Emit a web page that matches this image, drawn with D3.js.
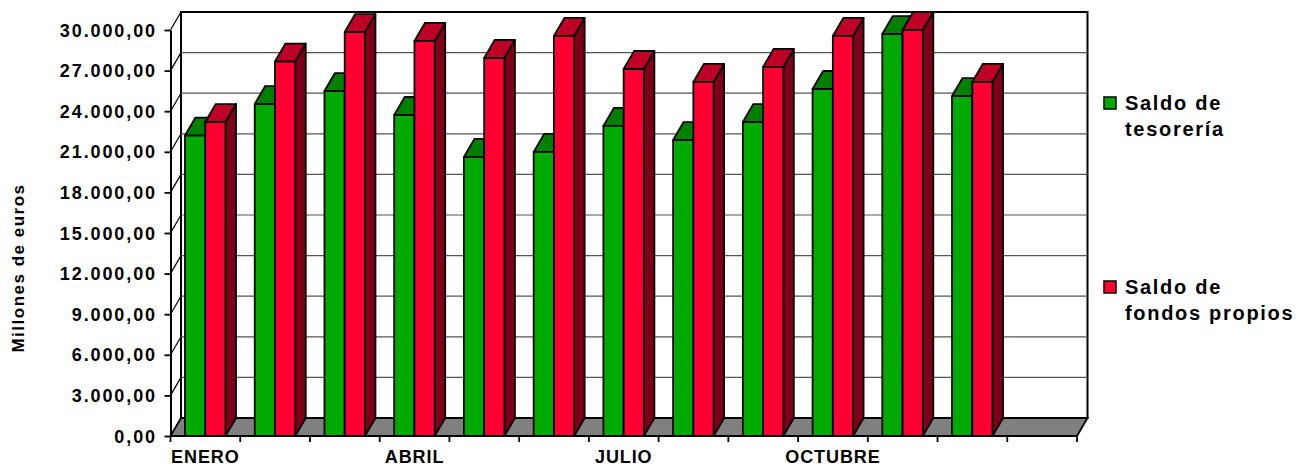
<!DOCTYPE html>
<html>
<head>
<meta charset="utf-8">
<script src="https://cdn.jsdelivr.net/npm/d3@7"></script>
<style>
html, body { margin: 0; padding: 0; background: #fff; }
svg { display: block; }
text { font-family: "Liberation Sans", Arial, sans-serif; font-weight: bold; fill: #000; }
</style>
</head>
<body>
<svg id="chart" width="1308" height="467"></svg>
<script>
// one extra empty slot at the end, the source chart leaves it blank
var months = ["ENERO", "FEBRERO", "MARZO", "ABRIL", "MAYO", "JUNIO", "JULIO", "AGOSTO", "SEPTIEMBRE", "OCTUBRE", "NOVIEMBRE", "DICIEMBRE", ""];
var labelledMonths = ["ENERO", "ABRIL", "JULIO", "OCTUBRE"];
var tesoreria = [22200, 24530, 25490, 23720, 20620, 20990, 22910, 21870, 23200, 25640, 29700, 25120];
var fondos = [23200, 27670, 29850, 29190, 27930, 29560, 27120, 26160, 27270, 29560, 30000, 26160];
var yTicks = [0, 3000, 6000, 9000, 12000, 15000, 18000, 21000, 24000, 27000, 30000];
var seriesNames = ["Saldo de tesorería", "Saldo de fondos propios"];

var svg = d3.select("#chart");

var left = 170.5, right = 1077, bottom = 436, top_ = 30;
var depthX = 10.5, depthY = 18;

var es = d3.formatLocale({ decimal: ",", thousands: ".", grouping: [3], currency: ["", "€"] });

var xScale = d3.scaleBand().domain(months).range([left, right]);
var yScale = d3.scaleLinear().domain([0, 30000]).range([bottom, top_]);
var barScale = d3.scaleBand().domain(seriesNames).range([14.5, 55]);

var palette = [
    { front: "#00AA00", top: "#008000", side: "#005500" },
    { front: "#FF0033", top: "#BF0026", side: "#7F0019" }
];

// back wall and side wall
var walls = svg.append("g").attr("fill", "none").attr("stroke", "#000");
walls.append("rect")
    .attr("x", left + depthX).attr("y", top_ - depthY)
    .attr("width", right - left).attr("height", bottom - top_)
    .attr("fill", "#fff").attr("stroke-width", 2);
walls.selectAll(".grid")
    .data(yTicks.slice(1, -1))
    .enter().append("line")
    .attr("x1", left + depthX).attr("x2", right + depthX)
    .attr("y1", function(d){ return yScale(d) - depthY; })
    .attr("y2", function(d){ return yScale(d) - depthY; })
    .attr("stroke", "#555").attr("stroke-width", 1.2);
walls.selectAll(".diag")
    .data(yTicks.slice(1))
    .enter().append("line")
    .attr("x1", left).attr("x2", left + depthX)
    .attr("y1", function(d){ return yScale(d); })
    .attr("y2", function(d){ return yScale(d) - depthY; })
    .attr("stroke-width", 1.2);

// floor
svg.append("path")
    .attr("d", d3.line()([[left, bottom], [right, bottom], [right + depthX, bottom - depthY], [left + depthX, bottom - depthY]]) + "Z")
    .attr("fill", "#808080").attr("stroke", "#000").attr("stroke-width", 1.8);

// bars, each month left to right, green before red
var bars = svg.append("g").attr("stroke", "#000").attr("stroke-width", 1.8).attr("stroke-linejoin", "round");
months.slice(0, 12).forEach(function(m, i){
    [tesoreria[i], fondos[i]].forEach(function(v, s){
        var x0 = xScale(m) + barScale(seriesNames[s]);
        var x1 = x0 + barScale.bandwidth();
        var y0 = yScale(v);
        var g = bars.append("g");
        g.append("path")
            .attr("d", d3.line()([[x1, y0], [x1 + depthX, y0 - depthY], [x1 + depthX, bottom - depthY], [x1, bottom]]) + "Z")
            .attr("fill", palette[s].side);
        g.append("path")
            .attr("d", d3.line()([[x0, y0], [x0 + depthX, y0 - depthY], [x1 + depthX, y0 - depthY], [x1, y0]]) + "Z")
            .attr("fill", palette[s].top);
        g.append("rect")
            .attr("x", x0).attr("y", y0)
            .attr("width", x1 - x0).attr("height", bottom - y0)
            .attr("fill", palette[s].front);
    });
});

// axes
var yAxis = d3.axisLeft(yScale).tickValues(yTicks).tickSizeInner(6).tickSizeOuter(0).tickFormat(es.format(",.2f"));
var yG = svg.append("g").attr("transform", "translate(" + left + ",0)").call(yAxis);
yG.select(".domain").attr("stroke-width", 2);
yG.selectAll(".tick line").attr("stroke-width", 1.8);
yG.selectAll("text")
    .attr("x", -13.5).attr("dy", "0.34em")
    .style("font-size", "18px").style("letter-spacing", "1.9px");

// ticks sit on the slot edges, labels in the slot centre
var xG = svg.append("g").attr("transform", "translate(0," + bottom + ")");
xG.append("line").attr("x1", left).attr("x2", right).attr("stroke", "#000").attr("stroke-width", 2);
xG.selectAll(".tick")
    .data(months.concat(["end"]))
    .enter().append("line")
    .attr("x1", function(d, i){ return left + i * xScale.step(); })
    .attr("x2", function(d, i){ return left + i * xScale.step(); })
    .attr("y1", 0).attr("y2", 6)
    .attr("stroke", "#000").attr("stroke-width", 1.8);
xG.selectAll(".lab")
    .data(labelledMonths)
    .enter().append("text")
    .attr("x", function(d){ return xScale(d) + xScale.bandwidth() / 2; })
    .attr("y", 27)
    .attr("text-anchor", "middle")
    .style("font-size", "18px")
    .style("letter-spacing", "0.9px")
    .text(function(d){ return d; });

svg.append("text")
    .attr("transform", "translate(24,268) rotate(-90)")
    .attr("text-anchor", "middle")
    .style("font-size", "17px")
    .style("letter-spacing", "1.5px")
    .text("Millones de euros");

// legend
var legendLines = [["Saldo de", "tesorería"], ["Saldo de", "fondos propios"]];
var legendY = [110, 294];
legendLines.forEach(function(lines, i){
    svg.append("rect")
        .attr("x", 1104).attr("y", legendY[i] - 13)
        .attr("width", 12).attr("height", 12)
        .attr("fill", palette[i].front).attr("stroke", "#000").attr("stroke-width", 1.5);
    lines.forEach(function(t, j){
        svg.append("text")
            .attr("x", 1125).attr("y", legendY[i] + j * 26)
            .style("font-size", "20px").style("letter-spacing", "1.7px")
            .text(t);
    });
});
</script>
</body>
</html>
